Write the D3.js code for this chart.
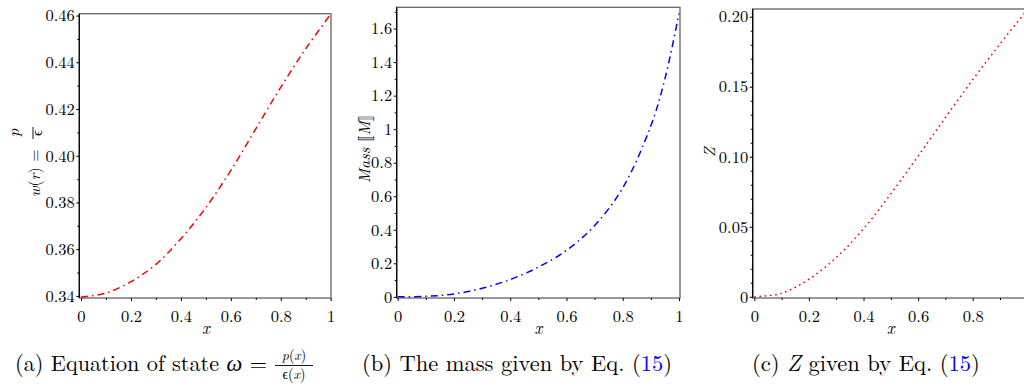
<!DOCTYPE html>
<html>
<head>
<meta charset="utf-8">
<script src="https://cdn.jsdelivr.net/npm/d3@7"></script>
<style>
  html, body { margin: 0; padding: 0; background: #fff; }
  svg { display: block; }
</style>
</head>
<body>
<svg id="chart" width="1024" height="386"></svg>
<script>
const FONT = '"Latin Modern Roman"'

// sample positions along x
const xs = [0, 0.1, 0.2, 0.3, 0.4, 0.5, 0.6, 0.7, 0.8, 0.9, 1]
const xsMass = [0, 0.1, 0.2, 0.3, 0.4, 0.5, 0.6, 0.7, 0.8, 0.9, 0.95, 1]

// (a) equation of state w = p / eps
const eosValues = [0.3395, 0.3412, 0.3461, 0.3535, 0.3645, 0.3778, 0.3937, 0.4115, 0.4293, 0.4458, 0.4606]
// (b) mass
const massValues = [0, 0.003, 0.017, 0.051, 0.103, 0.177, 0.277, 0.425, 0.65, 1.02, 1.30, 1.69]
// (c) Z
const zValues = [0, 0.0025, 0.0125, 0.028, 0.0485, 0.0735, 0.1005, 0.128, 0.155, 0.1805, 0.205]

// ticks
const xTicks = [0, 0.2, 0.4, 0.6, 0.8, 1]
const xTickLabels = ['0', '0.2', '0.4', '0.6', '0.8', '1']
const xMinor = [0.1, 0.3, 0.5, 0.7, 0.9]
const eosTicks = [0.34, 0.36, 0.38, 0.40, 0.42, 0.44, 0.46]
const eosLabels = ['0.34', '0.36', '0.38', '0.40', '0.42', '0.44', '0.46']
const eosMinor = [0.35, 0.37, 0.39, 0.41, 0.43, 0.45]
const massTicks = [0, 0.2, 0.4, 0.6, 0.8, 1, 1.2, 1.4, 1.6]
const massLabels = ['0', '0.2', '0.4', '0.6', '0.8', '1', '1.2', '1.4', '1.6']
const massMinor = [0.1, 0.3, 0.5, 0.7, 0.9, 1.1, 1.3, 1.5, 1.7]
const zTicks = [0, 0.05, 0.10, 0.15, 0.20]
const zLabels = ['0', '0.05', '0.10', '0.15', '0.20']
const zMinor = d3.range(1, 21).map(i => i / 100).filter(v => Math.round(v * 100) % 5 !== 0)

const svg = d3.select('#chart')

drawPanel({
  x: [79.3, 331], xDomain: [-0.0068, 1.0012],
  y: [298, 13.7], yDomain: [0.3391, 0.4608],
  xv: xs, yv: eosValues,
  yTicks: eosTicks, yLabels: eosLabels, yMinor: eosMinor,
  color: 'red', dash: '7,4,1.5,4'
})
drawPanel({
  x: [396.7, 680], xDomain: [-0.0036, 1.0036],
  y: [298, 7.3], yDomain: [-0.007, 1.727],
  xv: xsMass, yv: massValues,
  yTicks: massTicks, yLabels: massLabels, yMinor: massMinor,
  color: 'blue', dash: '7,4,1.5,4'
})
drawPanel({
  x: [752.7, 1028.5], xDomain: [-0.0059, 1.0044],
  y: [298, 9], yDomain: [-0.0009, 0.2055],
  xv: xs, yv: zValues,
  yTicks: zTicks, yLabels: zLabels, yMinor: zMinor,
  color: 'red', dash: '1.6,3.6'
})

function drawPanel (cfg) {
  const x = d3.scaleLinear().domain(cfg.xDomain).range(cfg.x)
  const y = d3.scaleLinear().domain(cfg.yDomain).range(cfg.y)
  const g = svg.append('g')
  // labels past the right edge of the page are not shown in the original
  const xShown = xTicks.filter(v => x(v) < 1018)

  // frame
  g.append('rect')
    .attr('x', cfg.x[0]).attr('y', cfg.y[1])
    .attr('width', cfg.x[1] - cfg.x[0]).attr('height', cfg.y[0] - cfg.y[1])
    .attr('fill', 'none').attr('stroke', '#6e6e6e').attr('stroke-width', 1.4)

  // minor ticks
  g.append('g').attr('transform', `translate(0,${cfg.y[0]})`)
    .call(d3.axisBottom(x).tickValues(xMinor).tickSize(2).tickFormat(''))
  g.append('g').attr('transform', `translate(${cfg.x[0]},0)`)
    .call(d3.axisLeft(y).tickValues(cfg.yMinor.filter(v => y(v) > cfg.y[1])).tickSize(2).tickFormat(''))

  // major ticks + labels
  g.append('g').attr('transform', `translate(0,${cfg.y[0]})`)
    .call(d3.axisBottom(x).tickValues(xShown).tickSize(3).tickPadding(9)
      .tickFormat((d, i) => xTickLabels[i]))
  g.append('g').attr('transform', `translate(${cfg.x[0]},0)`)
    .call(d3.axisLeft(y).tickValues(cfg.yTicks).tickSize(3).tickPadding(1.5)
      .tickFormat((d, i) => cfg.yLabels[i]))

  g.selectAll('.domain').remove()
  g.selectAll('g').attr('font-family', null)
  g.selectAll('.tick line').attr('stroke', '#000').attr('stroke-width', 1)
  g.selectAll('.tick text')
    .style('font-family', FONT).style('font-size', '16.5px').attr('fill', '#000')

  // left axis line drawn black over the frame
  g.append('line')
    .attr('x1', cfg.x[0]).attr('x2', cfg.x[0])
    .attr('y1', cfg.y[0]).attr('y2', cfg.y[1])
    .attr('stroke', '#000').attr('stroke-width', 1.2)

  const line = d3.line()
    .x(d => x(d[0]))
    .y(d => y(d[1]))
    .curve(d3.curveCatmullRom.alpha(0.5))

  g.append('path')
    .datum(cfg.xv.map((v, i) => [v, cfg.yv[i]]))
    .attr('d', line)
    .attr('fill', 'none')
    .attr('stroke', cfg.color)
    .attr('stroke-width', 1.5)
    .attr('stroke-dasharray', cfg.dash)

  // x label
  g.append('text')
    .attr('x', (x(0) + x(1)) / 2).attr('y', 334)
    .attr('text-anchor', 'middle')
    .style('font-family', FONT).style('font-size', '17px').style('font-style', 'italic')
    .text('x')
}

function txt (sel, size) {
  return sel.style('font-family', FONT).style('font-size', size + 'px').attr('fill', '#000')
}

/* y axis titles */
const lblA = svg.append('g').attr('transform', 'translate(40,197) rotate(-90)')
const tA = txt(lblA.append('text'), 16)
tA.append('tspan').style('font-style', 'italic').text('w')
tA.append('tspan').text('(')
tA.append('tspan').style('font-style', 'italic').text('r')
tA.append('tspan').text(') =')
txt(lblA.append('text'), 16).attr('x', 64).attr('y', -21).attr('text-anchor', 'middle')
  .style('font-style', 'italic').text('p')
lblA.append('line').attr('x1', 58).attr('x2', 70).attr('y1', -7).attr('y2', -7)
  .attr('stroke', '#000').attr('stroke-width', 0.9)
txt(lblA.append('text'), 15).attr('x', 64).attr('y', 1.5).attr('text-anchor', 'middle').text('ϵ')

const tB = txt(svg.append('text'), 16).attr('transform', 'translate(370,149) rotate(-90)')
  .attr('text-anchor', 'middle')
tB.append('tspan').style('font-style', 'italic').text('Mass ')
tB.append('tspan').text('⟦')
tB.append('tspan').style('font-style', 'italic').text('M')
tB.append('tspan').text('⟧')

txt(svg.append('text'), 16).attr('transform', 'translate(715,152) rotate(-90)')
  .attr('text-anchor', 'middle').style('font-style', 'italic').text('Z')

/* captions: sized so each spans the same width as in the original */
function caption (x0, width, parts) {
  const t = svg.append('text').attr('x', x0).attr('y', 371)
    .style('font-family', FONT).style('font-size', '18px').attr('fill', '#000')
  parts.forEach(p => {
    const s = t.append('tspan').text(p.t)
    if (p.it) s.style('font-style', 'italic')
    if (p.c) s.attr('fill', p.c)
  })
  const w = t.node().getComputedTextLength()
  if (w > 0) t.style('font-size', (18 * width / w).toFixed(2) + 'px')
  return t
}

caption(15, 252, [{ t: '(a) Equation of state ' }, { t: 'ω', it: true }, { t: ' =' }])
svg.append('text').attr('x', 294).attr('y', 360).attr('text-anchor', 'middle')
  .style('font-family', FONT).style('font-size', '14px')
  .html('<tspan font-style="italic">p</tspan>(<tspan font-style="italic">x</tspan>)')
svg.append('line').attr('x1', 275).attr('x2', 313).attr('y1', 365.5).attr('y2', 365.5)
  .attr('stroke', '#000').attr('stroke-width', 0.9)
svg.append('text').attr('x', 294).attr('y', 379).attr('text-anchor', 'middle')
  .style('font-family', FONT).style('font-size', '14px')
  .html('ϵ(<tspan font-style="italic">x</tspan>)')

caption(362, 310, [{ t: '(b) The mass given by Eq. (' }, { t: '15', c: '#0000ff' }, { t: ')' }])
caption(752, 228, [{ t: '(c) ' }, { t: 'Z', it: true }, { t: ' given by Eq. (' }, { t: '15', c: '#0000ff' }, { t: ')' }])
</script>
</body>
</html>
